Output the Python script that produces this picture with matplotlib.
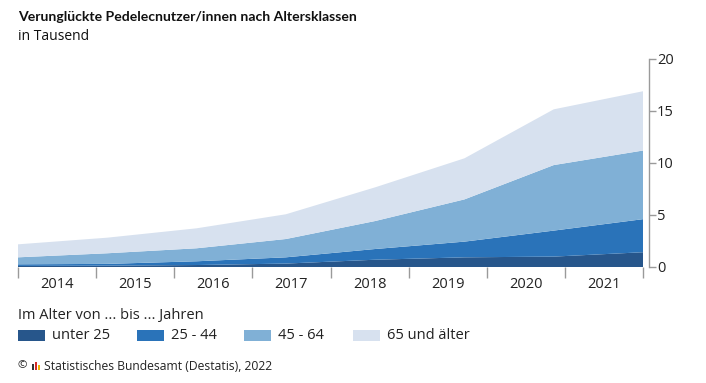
import matplotlib.pyplot as plt
import matplotlib.patches as mpatches
import numpy as np

plt.rcParams['font.family'] = ['Open Sans', 'DejaVu Sans']

years = ["2014", "2015", "2016", "2017", "2018", "2019", "2020", "2021"]
unter_25 = [0.10, 0.13, 0.19, 0.33, 0.70, 0.93, 1.00, 1.42]
von_25_44 = [0.16, 0.17, 0.36, 0.60, 1.03, 1.51, 2.50, 3.18]
von_45_64 = [0.67, 1.02, 1.25, 1.76, 2.69, 4.06, 6.30, 6.60]
ab_65 = [1.25, 1.50, 1.92, 2.38, 3.24, 3.95, 5.36, 5.70]

labels = ["unter 25", "25 - 44", "45 - 64", "65 und älter"]
colors = ["#27568b", "#2a73b9", "#80b0d6", "#d7e1ef"]

W, H = 706, 383
fig = plt.figure(figsize=(W / 100, H / 100), dpi=100)

# axes in pixel coords: x 18..643, y 59..267
ax = fig.add_axes([18 / W, 1 - 267 / H, (643 - 18) / W, (267 - 59) / H])

n = len(years)
# points spread from the left edge of the first category to the right edge of the last
xs = np.linspace(-0.5, n - 0.5, n)
ax.stackplot(xs, unter_25, von_25_44, von_45_64, ab_65, colors=colors, linewidth=0)

ax.set_xlim(-0.5, n - 0.5)
ax.set_ylim(0, 20)

for s in ["top", "left", "bottom"]:
    ax.spines[s].set_visible(False)
ax.spines["right"].set_position(("outward", 4))
ax.spines["right"].set_color("#9a9a9a")
ax.spines["right"].set_linewidth(1.0)
ax.spines["right"].set_bounds(0, 20)

ax.yaxis.tick_right()
ax.set_yticks([0, 5, 10, 15, 20])
ax.tick_params(axis="y", length=5, color="#9a9a9a", width=1.0, labelsize=10.5,
               labelcolor="#222222", pad=1)

ax.set_xticks(range(n))
ax.set_xticklabels(years)
ax.set_xticks(np.arange(-0.5, n, 1.0), minor=True)
ax.tick_params(axis="x", which="major", length=0, labelsize=10.5, labelcolor="#222222", pad=7)
ax.tick_params(axis="x", which="minor", length=8, color="#9a9a9a", width=1.0)

# titles
fig.text(18 / W, 1 - 17 / H, "Verunglückte Pedelecnutzer/innen nach Altersklassen",
         fontsize=10.1, fontweight="bold", color="#111111", va="center", ha="left",
         family=["Lato", "DejaVu Sans"])
fig.text(18 / W, 1 - 37 / H, "in Tausend", fontsize=10, color="#111111", va="center", ha="left")

# legend
fig.text(18 / W, 1 - 316 / H, "Im Alter von ... bis ... Jahren", fontsize=10.5,
         color="#222222", va="center", ha="left")
legend_x = [18, 137, 244, 353]
for lx, lab, col in zip(legend_x, labels, colors):
    fig.patches.append(mpatches.Rectangle((lx / W, 1 - 341 / H), 27 / W, 11 / H,
                                          transform=fig.transFigure, color=col, lw=0))
    fig.text((lx + 34) / W, 1 - 335.5 / H, lab, fontsize=10.5, color="#222222",
             va="center", ha="left")

# source line with small logo
fig.text(17 / W, 1 - 366 / H, "©", fontsize=8.2, color="#222222", va="center", ha="left")
for i, c in enumerate(["#333333", "#d42a2a", "#f2b400"]):
    h = [6, 8, 5][i]
    fig.patches.append(mpatches.Rectangle(((32 + i * 3) / W, 1 - 369.5 / H), 2 / W, h / H,
                                          transform=fig.transFigure, color=c, lw=0))
fig.text(44 / W, 1 - 366 / H, "Statistisches Bundesamt (Destatis), 2022", fontsize=8.7,
         color="#222222", va="center", ha="left")

fig.savefig("out.png", dpi=100)
